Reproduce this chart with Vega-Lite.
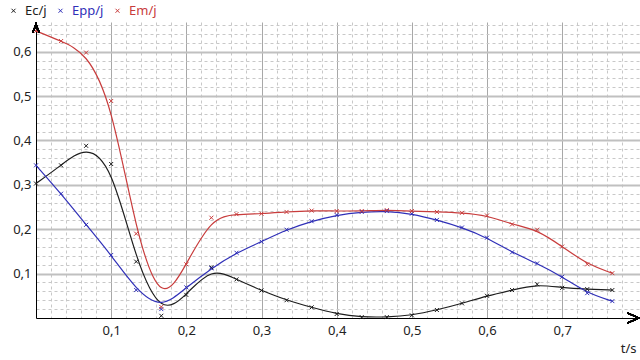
{
  "$schema": "https://vega.github.io/schema/vega-lite/v6.json",
  "width": 604,
  "height": 296,
  "autosize": "none",
  "padding": {"left": 36, "top": 22, "right": 0, "bottom": 42},
  "background": "white",
  "config": {"font": "Noto Sans", "view": {"stroke": null}},
  "data": {"values": [
    {"t": 0.0, "Ec": 0.303, "Epp": 0.344, "Em": 0.647},
    {"t": 0.0333, "Ec": 0.344, "Epp": 0.280, "Em": 0.624},
    {"t": 0.0667, "Ec": 0.388, "Epp": 0.210, "Em": 0.598},
    {"t": 0.1, "Ec": 0.347, "Epp": 0.142, "Em": 0.489},
    {"t": 0.1333, "Ec": 0.127, "Epp": 0.063, "Em": 0.190},
    {"t": 0.1667, "Ec": 0.005, "Epp": 0.020, "Em": 0.025},
    {"t": 0.2, "Ec": 0.052, "Epp": 0.069, "Em": 0.121},
    {"t": 0.2333, "Ec": 0.114, "Epp": 0.112, "Em": 0.226},
    {"t": 0.2667, "Ec": 0.087, "Epp": 0.147, "Em": 0.234},
    {"t": 0.3, "Ec": 0.062, "Epp": 0.172, "Em": 0.235},
    {"t": 0.3333, "Ec": 0.040, "Epp": 0.199, "Em": 0.239},
    {"t": 0.3667, "Ec": 0.024, "Epp": 0.218, "Em": 0.242},
    {"t": 0.4, "Ec": 0.009, "Epp": 0.232, "Em": 0.241},
    {"t": 0.4333, "Ec": 0.002, "Epp": 0.239, "Em": 0.241},
    {"t": 0.4667, "Ec": 0.002, "Epp": 0.241, "Em": 0.243},
    {"t": 0.5, "Ec": 0.006, "Epp": 0.235, "Em": 0.241},
    {"t": 0.5333, "Ec": 0.018, "Epp": 0.221, "Em": 0.239},
    {"t": 0.5667, "Ec": 0.033, "Epp": 0.204, "Em": 0.237},
    {"t": 0.6, "Ec": 0.050, "Epp": 0.181, "Em": 0.231},
    {"t": 0.6333, "Ec": 0.063, "Epp": 0.148, "Em": 0.211},
    {"t": 0.6667, "Ec": 0.076, "Epp": 0.123, "Em": 0.199},
    {"t": 0.7, "Ec": 0.068, "Epp": 0.093, "Em": 0.161},
    {"t": 0.7333, "Ec": 0.065, "Epp": 0.056, "Em": 0.121},
    {"t": 0.7667, "Ec": 0.063, "Epp": 0.038, "Em": 0.101}
  ]},
  "transform": [{"fold": ["Ec", "Epp", "Em"], "as": ["serie", "val"]}],
  "encoding": {
    "color": {
      "field": "serie", "type": "nominal",
      "scale": {"domain": ["Ec", "Epp", "Em"], "range": ["#1e1e1e", "#3030b8", "#c83c3c"]},
      "legend": {
        "title": null, "orient": "none", "legendX": -29, "legendY": -18,
        "direction": "horizontal", "padding": 0, "columnPadding": 7,
        "labelExpr": "datum.label + '/j'", "labelFontSize": 13, "labelFont": "Noto Sans",
        "labelOffset": 5, "symbolType": "M-1,-1L1,1M-1,1L1,-1", "symbolSize": 16,
        "symbolStrokeWidth": 1,
        "encode": {"labels": {"update": {"fill": {"scale": "color", "field": "value"}}}}
      }
    }
  },
  "layer": [
    {
      "mark": {"type": "line", "interpolate": "basis", "strokeWidth": 1.2},
      "encoding": {
        "x": {"field": "t", "type": "quantitative",
          "scale": {"domain": [0, 0.8035], "nice": false, "zero": false},
          "axis": {"orient": "bottom", "values": [0.02,0.04,0.06,0.08,0.12,0.14,0.16,0.18,0.22,0.24,0.26,0.28,0.32,0.34,0.36,0.38,0.42,0.44,0.46,0.48,0.52,0.54,0.56,0.58,0.62,0.64,0.66,0.68,0.72,0.74,0.76,0.78],
            "grid": true, "gridDash": [3, 3], "gridColor": "#c8c8c8", "gridWidth": 1,
            "labels": false, "ticks": false, "domain": false, "title": null}},
        "y": {"field": "val", "type": "quantitative",
          "scale": {"domain": [0, 0.667], "nice": false, "zero": false},
          "axis": {"orient": "left", "values": [0.02,0.04,0.06,0.08,0.12,0.14,0.16,0.18,0.22,0.24,0.26,0.28,0.32,0.34,0.36,0.38,0.42,0.44,0.46,0.48,0.52,0.54,0.56,0.58,0.62,0.64,0.66],
            "grid": true, "gridDash": [3, 3], "gridColor": "#c8c8c8", "gridWidth": 1,
            "labels": false, "ticks": false, "domain": false, "title": null}},
        "detail": {"field": "serie"}
      }
    },
    {
      "mark": {"type": "point", "shape": "M-1,-1L1,1M-1,1L1,-1", "filled": false, "size": 16, "strokeWidth": 1, "opacity": 1},
      "encoding": {
        "x": {"field": "t", "type": "quantitative",
          "axis": {"orient": "bottom", "values": [0.1,0.2,0.3,0.4,0.5,0.6,0.7],
            "grid": true, "gridColor": "#a8a8a8", "gridWidth": 1,
            "ticks": false, "domain": true, "domainColor": "#000000", "domainWidth": 1,
            "labelExpr": "replace(format(datum.value, '.1f'), '.', ',')",
            "labelFontSize": 13, "labelColor": "#222222", "labelPadding": 6, "labelFont": "Noto Sans",
            "title": "t/s", "titleFontWeight": "normal", "titleFontSize": 13, "titleColor": "#222222",
            "titleAnchor": "end", "titleAlign": "right", "titleBaseline": "middle", "titleX": 600, "titleY": 30, "titleFont": "Noto Sans"}},
        "y": {"field": "val", "type": "quantitative",
          "axis": {"orient": "left", "values": [0.1,0.2,0.3,0.4,0.5,0.6],
            "grid": true, "gridColor": "#c0c0c0", "gridWidth": 2,
            "ticks": false, "domain": true, "domainColor": "#000000", "domainWidth": 1,
            "labelExpr": "replace(format(datum.value, '.1f'), '.', ',')",
            "labelFontSize": 13, "labelColor": "#222222", "labelPadding": 5, "labelFont": "Noto Sans",
            "title": null}}
      }
    },
    {
      "mark": {"type": "point", "shape": "M-1,2.6L0,0L1,2.6", "filled": false, "size": 44, "strokeWidth": 1.2, "color": "#000000"},
      "encoding": {
        "x": {"datum": 0, "type": "quantitative", "axis": null},
        "y": {"datum": 0.662, "type": "quantitative", "axis": null},
        "color": {"value": "#000000"}
      }
    },
    {
      "mark": {"type": "point", "shape": "M-2.4,-1.1L0,0L-2.4,1.1", "filled": false, "size": 81, "strokeWidth": 1.2, "color": "#000000"},
      "encoding": {
        "x": {"datum": 0.8015, "type": "quantitative", "axis": null},
        "y": {"datum": 0, "type": "quantitative", "axis": null},
        "color": {"value": "#000000"}
      }
    }
  ],
  "resolve": {"axis": {"x": "independent", "y": "independent"}}
}
